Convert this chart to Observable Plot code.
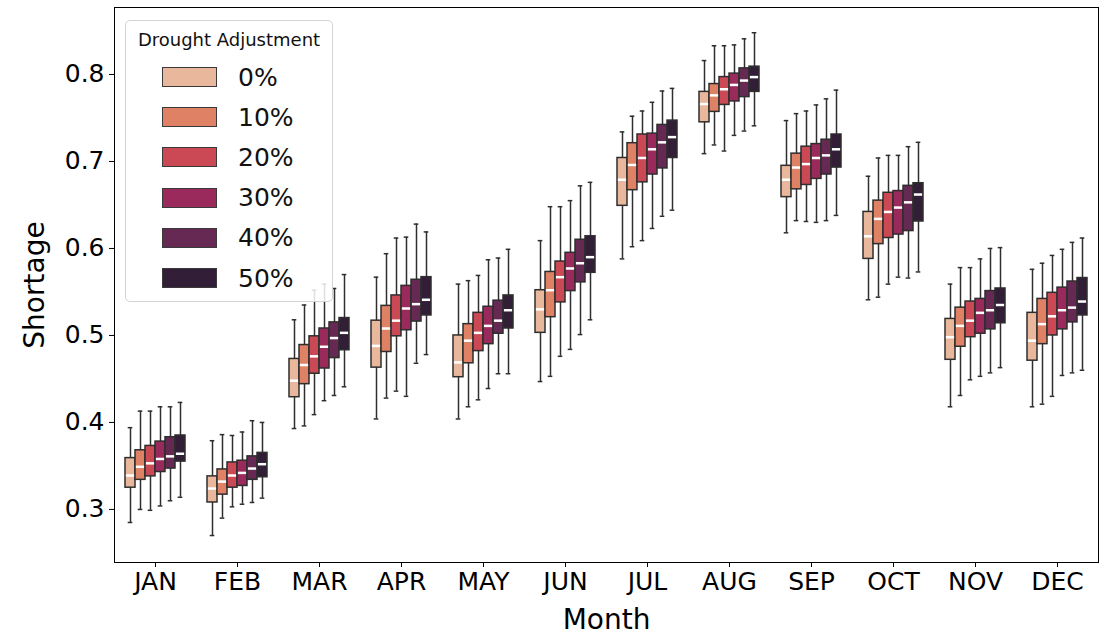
<!DOCTYPE html>
<html>
<head>
<meta charset="utf-8">
<script src="https://cdn.jsdelivr.net/npm/d3@7"></script>
<script src="https://cdn.jsdelivr.net/npm/@observablehq/plot@0.6"></script>
<style>
  body { margin: 0; background: #fff; font-family: "DejaVu Sans", sans-serif; }
  #wrap { position: relative; width: 1109px; height: 634px; overflow: hidden; }
  #legend { position: absolute; left: 125px; top: 20px; width: 208px; height: 282px; box-sizing: border-box;
            border: 1.5px solid #d4d4d4; border-radius: 5px; background: rgba(255,255,255,0.85); }
  #legend .title { position: absolute; left: 0; right: 0; top: 8px; text-align: center; font-size: 18px; color: #111; }
  #legend .row { position: absolute; left: 36px; height: 40px; display: flex; align-items: center; }
  #legend .sw { width: 55px; height: 20px; box-sizing: border-box; border: 1.3px solid #3a3a3a; }
  #legend .lab { margin-left: 21px; font-size: 25px; color: #111; }
</style>
</head>
<body>
<div id="wrap"><div id="chart"></div><div id="legend"></div></div>
<script>
// ---- data ----
const months = ["JAN","FEB","MAR","APR","MAY","JUN","JUL","AUG","SEP","OCT","NOV","DEC"];
const adjustments = ["0%","10%","20%","30%","40%","50%"];
const colors = ["#e9b89c","#df8165","#cb4954","#9a2a5b","#662953","#321f37"];
const yTicks = [0.3,0.4,0.5,0.6,0.7,0.8];

const whiskerLow = [
  [0.285,0.300,0.299,0.304,0.310,0.314],
  [0.270,0.290,0.303,0.306,0.308,0.313],
  [0.393,0.396,0.409,0.425,0.431,0.441],
  [0.404,0.428,0.436,0.430,0.468,0.478],
  [0.404,0.418,0.426,0.439,0.456,0.456],
  [0.447,0.453,0.476,0.484,0.501,0.518],
  [0.588,0.602,0.609,0.623,0.637,0.644],
  [0.709,0.719,0.712,0.730,0.735,0.741],
  [0.618,0.632,0.631,0.630,0.632,0.638],
  [0.541,0.544,0.559,0.567,0.566,0.573],
  [0.418,0.431,0.449,0.453,0.457,0.463],
  [0.418,0.421,0.430,0.454,0.457,0.460]
];
const quartile1 = [
  [0.325,0.334,0.338,0.343,0.347,0.355],
  [0.308,0.317,0.325,0.327,0.334,0.337],
  [0.429,0.444,0.456,0.462,0.474,0.483],
  [0.463,0.481,0.499,0.506,0.516,0.523],
  [0.452,0.468,0.482,0.490,0.502,0.508],
  [0.503,0.521,0.538,0.551,0.561,0.572],
  [0.649,0.667,0.676,0.685,0.692,0.704],
  [0.745,0.757,0.765,0.769,0.774,0.780],
  [0.659,0.668,0.673,0.680,0.685,0.693],
  [0.588,0.605,0.612,0.616,0.620,0.631],
  [0.472,0.487,0.498,0.502,0.507,0.514],
  [0.471,0.490,0.500,0.507,0.515,0.523]
];
const median = [
  [0.339,0.349,0.353,0.358,0.361,0.364],
  [0.324,0.332,0.339,0.342,0.347,0.352],
  [0.448,0.466,0.476,0.487,0.497,0.503],
  [0.488,0.508,0.517,0.531,0.536,0.541],
  [0.469,0.494,0.503,0.511,0.517,0.529],
  [0.530,0.552,0.567,0.577,0.583,0.590],
  [0.679,0.696,0.704,0.714,0.722,0.728],
  [0.766,0.776,0.783,0.788,0.793,0.797],
  [0.679,0.693,0.697,0.704,0.707,0.714],
  [0.614,0.634,0.642,0.647,0.653,0.662],
  [0.498,0.511,0.517,0.526,0.529,0.535],
  [0.494,0.513,0.522,0.529,0.532,0.539]
];
const quartile3 = [
  [0.359,0.368,0.373,0.378,0.383,0.385],
  [0.338,0.346,0.354,0.356,0.361,0.365],
  [0.473,0.489,0.499,0.508,0.515,0.520],
  [0.517,0.534,0.546,0.557,0.564,0.567],
  [0.500,0.513,0.526,0.533,0.540,0.546],
  [0.552,0.573,0.585,0.595,0.610,0.614],
  [0.704,0.721,0.731,0.732,0.742,0.747],
  [0.780,0.789,0.797,0.801,0.807,0.809],
  [0.695,0.709,0.717,0.720,0.725,0.731],
  [0.642,0.655,0.664,0.666,0.672,0.675],
  [0.519,0.532,0.539,0.542,0.551,0.554],
  [0.526,0.542,0.549,0.555,0.562,0.566]
];
const whiskerHigh = [
  [0.394,0.413,0.413,0.418,0.418,0.423],
  [0.379,0.386,0.385,0.389,0.402,0.400],
  [0.518,0.535,0.552,0.559,0.554,0.570],
  [0.567,0.594,0.612,0.613,0.628,0.619],
  [0.559,0.563,0.569,0.587,0.589,0.599],
  [0.609,0.648,0.648,0.655,0.672,0.676],
  [0.734,0.752,0.758,0.768,0.781,0.784],
  [0.816,0.833,0.833,0.834,0.841,0.848],
  [0.747,0.755,0.758,0.765,0.772,0.782],
  [0.683,0.704,0.707,0.707,0.717,0.722],
  [0.559,0.578,0.578,0.588,0.600,0.601],
  [0.576,0.583,0.592,0.599,0.607,0.612]
];

// ---- table ----
const rows = [];
months.forEach((m, i) => adjustments.forEach((a, j) => rows.push({
  month: m, adj: a,
  lo: whiskerLow[i][j], q1: quartile1[i][j], med: median[i][j], q3: quartile3[i][j], hi: whiskerHigh[i][j]
})));

const edge = "#2e2e2e";
const plot = Plot.plot({
  width: 1109, height: 634,
  marginLeft: 112, marginRight: 9, marginTop: 7, marginBottom: 72,
  style: { fontFamily: "DejaVu Sans, sans-serif", fontSize: "25px", color: "#000", background: "white", overflow: "visible" },
  fx: { domain: months, paddingInner: 0, paddingOuter: 0 },
  x: { domain: adjustments, paddingInner: 0, paddingOuter: 0.75, axis: null },
  y: { domain: [0.239, 0.877] },
  color: { type: "ordinal", domain: adjustments, range: colors },
  marks: [
    Plot.ruleX(rows, { fx: "month", x: "adj", y1: "lo", y2: "hi", stroke: edge, strokeWidth: 1.5 }),
    Plot.tickY(rows, { fx: "month", x: "adj", y: "lo", stroke: edge, strokeWidth: 1.5, insetLeft: 2.7, insetRight: 2.7 }),
    Plot.tickY(rows, { fx: "month", x: "adj", y: "hi", stroke: edge, strokeWidth: 1.5, insetLeft: 2.7, insetRight: 2.7 }),
    Plot.barY(rows, { fx: "month", x: "adj", y1: "q1", y2: "q3", fill: "adj", stroke: edge, strokeWidth: 1.5 }),
    Plot.tickY(rows, { fx: "month", x: "adj", y: "med", stroke: "white", strokeWidth: 2.5, insetLeft: 0.9, insetRight: 0.9 }),
    Plot.axisY({ ticks: yTicks, tickFormat: d => d.toFixed(1), tickSize: 5, tickPadding: 5, label: null, fontSize: 25 }),
    Plot.axisY({ ticks: [], label: "Shortage", labelAnchor: "center", labelArrow: "none", labelOffset: 90, fontSize: 28 }),
    Plot.axisFx({ anchor: "bottom", tickSize: 5, tickPadding: 5, label: null, fontSize: 25 }),
    Plot.axisFx({ anchor: "bottom", ticks: [], label: "Month", labelAnchor: "center", labelArrow: "none", labelOffset: 66, fontSize: 28 }),
    Plot.frame({ facet: "super", stroke: "#000", strokeWidth: 1 })
  ]
});
document.getElementById("chart").appendChild(plot);

// ---- legend ----
const lg = document.getElementById("legend");
const t = document.createElement("div");
t.className = "title"; t.textContent = "Drought Adjustment";
lg.appendChild(t);
adjustments.forEach((a, k) => {
  const r = document.createElement("div");
  r.className = "row";
  r.style.top = (36 + k * 40.2) + "px";
  const sw = document.createElement("div");
  sw.className = "sw"; sw.style.background = colors[k];
  const lab = document.createElement("span");
  lab.className = "lab"; lab.textContent = a;
  r.appendChild(sw); r.appendChild(lab);
  lg.appendChild(r);
});
</script>
</body>
</html>
